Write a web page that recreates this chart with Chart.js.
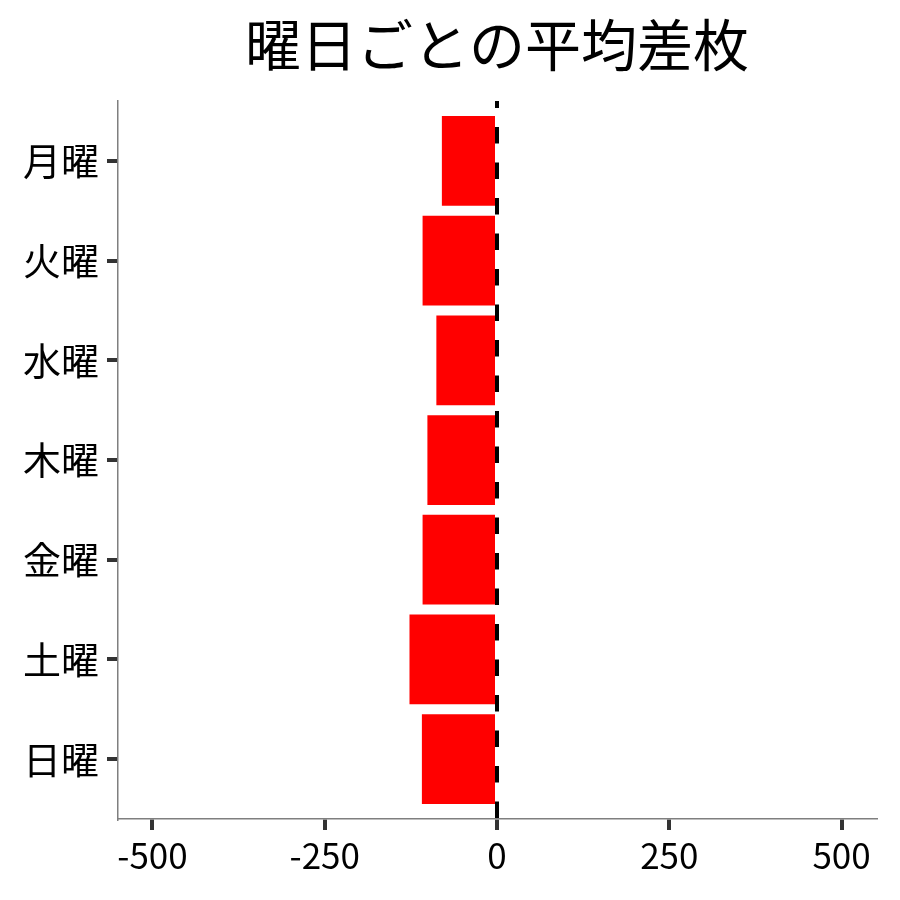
<!doctype html>
<html lang="ja">
<head>
  <meta charset="utf-8">
  <title>曜日ごとの平均差枚</title>
  <style>
    * { margin: 0; padding: 0; }
    body { background: white; }
    .chartBox { width: 900px; height: 900px; position: relative; }
  </style>
</head>
<body>
<div class="chartBox">
  <canvas id="myChart"></canvas>
</div>

<script src="https://cdn.jsdelivr.net/npm/chart.js"></script>
<script>
  // data
  const days = ['月曜', '火曜', '水曜', '木曜', '金曜', '土曜', '日曜'];
  const avgDiff = [-80, -108, -88, -101, -108, -127, -109];
  const xTicks = [-500, -250, 0, 250, 500];
  const titleText = '曜日ごとの平均差枚';

  const FONT = '"Noto Sans CJK JP", "Noto Sans", sans-serif';

  // title centred over the panel, like ggplot does
  const panelTitle = {
    id: 'panelTitle',
    afterDraw(chart) {
      const { ctx, chartArea } = chart;
      ctx.save();
      ctx.font = '56px ' + FONT;
      ctx.fillStyle = '#000';
      ctx.textAlign = 'center';
      ctx.textBaseline = 'middle';
      ctx.fillText(titleText, (chartArea.left + chartArea.right) / 2, 45);
      ctx.restore();
    }
  };

  // dashed reference line at x = 0
  const zeroLine = {
    id: 'zeroLine',
    afterDatasetsDraw(chart) {
      const { ctx, chartArea, scales } = chart;
      const x = scales.x.getPixelForValue(0);
      ctx.save();
      ctx.strokeStyle = '#000';
      ctx.lineWidth = 4;
      ctx.setLineDash([16.5, 19]);
      ctx.lineDashOffset = 9.5;
      ctx.beginPath();
      ctx.moveTo(x, chartArea.top);
      ctx.lineTo(x, chartArea.bottom);
      ctx.stroke();
      ctx.restore();
    }
  };

  const data = {
    datasets: [{
      data: avgDiff.map((v, i) => ({ x: v, y: i })),
      backgroundColor: '#ff0000',
      borderWidth: 0,
      barPercentage: 0.9,
      categoryPercentage: 1
    }]
  };

  const tickGrid = {
    offset: false,
    drawOnChartArea: false,
    drawTicks: true,
    lineWidth: 4,
    tickLength: 11,
    tickWidth: 4,
    tickColor: '#333'
  };

  const config = {
    type: 'bar',
    data,
    options: {
      indexAxis: 'y',
      responsive: true,
      maintainAspectRatio: false,
      animation: false,
      layout: { padding: { top: 101, right: 24, left: 0, bottom: 0 } },
      scales: {
        x: {
          type: 'linear',
          min: -550,
          max: 550,
          afterBuildTicks: (scale) => { scale.ticks = xTicks.map(v => ({ value: v })); },
          afterFit: (scale) => { scale.height = 81; },
          ticks: {
            color: '#000',
            padding: 5,
            font: { family: FONT, size: 35 },
            callback: (v) => String(v)
          },
          grid: tickGrid,
          border: { display: true, color: '#7f7f7f', width: 1.5 }
        },
        y: {
          type: 'linear',
          min: -0.6,
          max: 6.6,
          reverse: true,
          offset: false,
          afterBuildTicks: (scale) => { scale.ticks = days.map((d, i) => ({ value: i })); },
          afterFit: (scale) => { scale.width = 118; },
          ticks: {
            color: '#000',
            padding: 8,
            font: { family: FONT, size: 38 },
            callback: (v) => days[v]
          },
          grid: tickGrid,
          border: { display: true, color: '#7f7f7f', width: 1.5 }
        }
      },
      plugins: {
        legend: { display: false },
        title: { display: false },
        tooltip: { enabled: false }
      }
    },
    plugins: [panelTitle, zeroLine]
  };

  new Chart(document.getElementById('myChart'), config);
</script>
</body>
</html>
